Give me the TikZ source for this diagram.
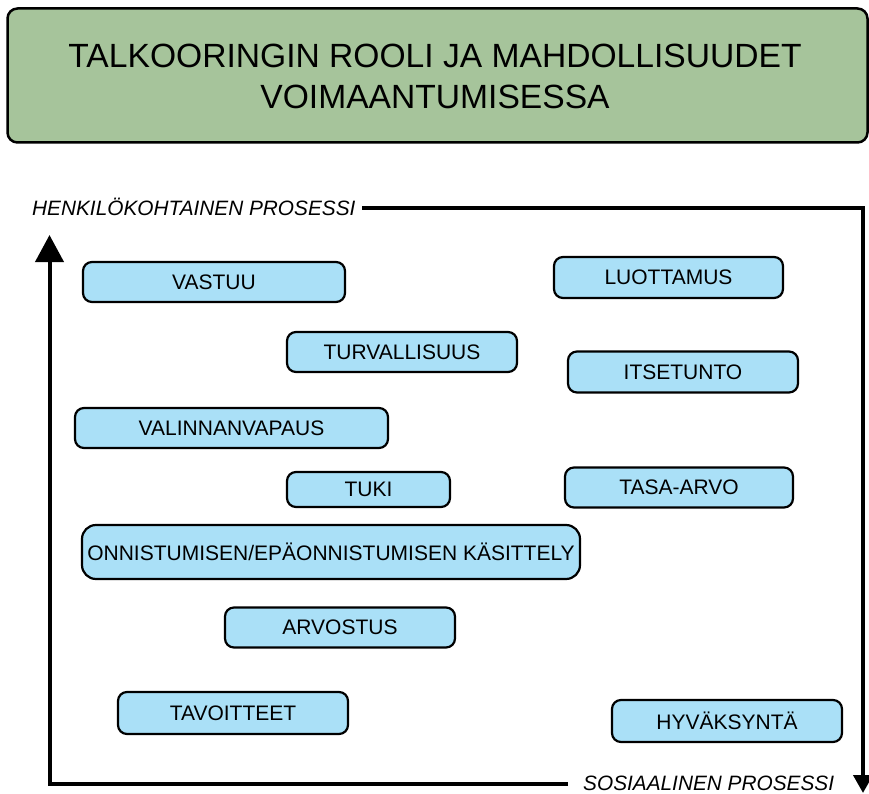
\documentclass[tikz,border=0pt]{standalone}
\usepackage{fontspec}
\setmainfont{Liberation Sans}
\usetikzlibrary{arrows.meta}
\definecolor{titlegreen}{HTML}{A6C49B}
\definecolor{boxblue}{HTML}{AAE0F7}
\begin{document}
\begin{tikzpicture}[x=1pt,y=-1pt,
  titlebox/.style={draw=black,line width=2.5pt,fill=titlegreen,rounded corners=10pt},
  item/.style={draw=black,line width=2.2pt,fill=boxblue,rounded corners=9pt,
    inner sep=0pt,minimum height=40pt,font=\fontsize{21}{25}\selectfont},
  axislabel/.style={inner sep=0pt,font=\fontsize{20.8}{24}\selectfont\itshape},
  axis/.style={line width=4pt,line join=miter}]
\useasboundingbox (0,0) rectangle (869,794);
% title
\draw[titlebox] (7.5,8.5) rectangle (867.5,142.5);
\node[inner sep=0pt,align=center,font=\fontsize{33.6}{41}\selectfont] (title) at (435,76.5)
  {TALKOORINGIN ROOLI JA MAHDOLLISUUDET\\VOIMAANTUMISESSA};
% axis labels
\node[axislabel,anchor=base west] (henk) at (32,215) {HENKILÖKOHTAINEN PROSESSI};
\node[axislabel,anchor=base west] (sos) at (583,790) {SOSIAALINEN PROSESSI};
% axes
\coordinate (hstart) at (362,208);
\coordinate (tr) at (863,208);
\coordinate (brtip) at (863,793);
\coordinate (sstart) at (568,783.5);
\coordinate (bl) at (49.5,783.5);
\coordinate (tltip) at (49.5,235);
\draw[axis,-{Triangle[width=19pt,length=18pt]}] (hstart) -- (tr) -- (brtip);
\draw[axis,-{Triangle[width=28pt,length=27pt]}] (sstart) -- (bl) -- (tltip);
% items
\node[item,minimum width=262pt] (vastuu) at (214,282) {VASTUU};
\node[item,minimum width=229pt,minimum height=41pt] (luottamus) at (668.5,277.5) {LUOTTAMUS};
\node[item,minimum width=230pt] (turva) at (402,352) {TURVALLISUUS};
\node[item,minimum width=230pt,minimum height=41pt] (itsetunto) at (683,372) {ITSETUNTO};
\node[item,minimum width=313pt] (valinta) at (231.5,428) {VALINNANVAPAUS};
\node[item,minimum width=163pt,minimum height=35pt] (tuki) at (368.5,489.5) {TUKI};
\node[item,minimum width=228pt] (tasa) at (679,487.5) {TASA-ARVO};
\node[item,minimum width=498pt,minimum height=54pt,rounded corners=14pt] (onnistuminen) at (331,552) {ONNISTUMISEN/EPÄONNISTUMISEN KÄSITTELY};
\node[item,minimum width=230pt] (arvostus) at (340,627.5) {ARVOSTUS};
\node[item,minimum width=230pt,minimum height=42pt] (tavoitteet) at (233,713) {TAVOITTEET};
\node[item,minimum width=230pt,minimum height=42pt] (hyvaksynta) at (727,721) {HYVÄKSYNTÄ};
\end{tikzpicture}
\end{document}
